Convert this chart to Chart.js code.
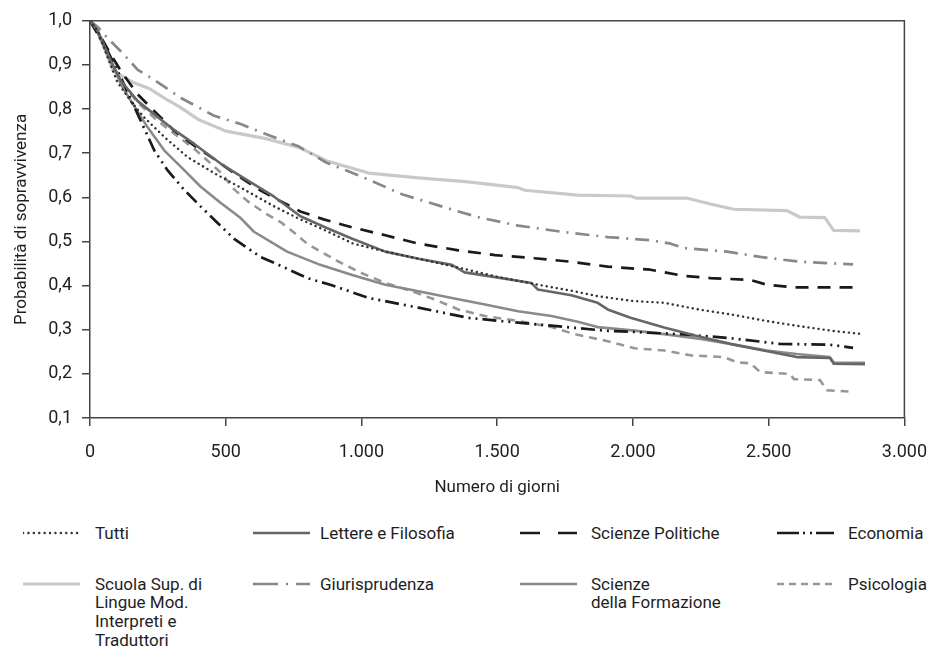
<!DOCTYPE html>
<html><head><meta charset="utf-8">
<script src="https://cdn.jsdelivr.net/npm/chart.js@4.4.1/dist/chart.umd.min.js"></script>
<style>
html,body{margin:0;padding:0;background:#fff;}
body{width:943px;height:650px;position:relative;overflow:hidden;font-family:Roboto, sans-serif;color:#1e1e1e;}
#wrap{position:absolute;left:0;top:0;width:943px;height:505px;}
.legtxt{position:absolute;font-size:17px;line-height:18.7px;color:#1e1e1e;white-space:nowrap;}
.legsvg{position:absolute;}
</style></head><body>
<div id="wrap"><canvas id="c" width="943" height="505"></canvas></div>
<div id="legend"></div>
<script>
// ---- data ----
const seriesNames = ['Tutti','Lettere e Filosofia','Scienze Politiche','Economia',
  'Scuola Sup. di\nLingue Mod.\nInterpreti e\nTraduttori','Giurisprudenza','Scienze\ndella Formazione','Psicologia'];
const xTickLabels = ['0','500','1.000','1.500','2.000','2.500','3.000'];
const yTickLabels = ['0,1','0,2','0,3','0,4','0,5','0,6','0,7','0,8','0,9','1,0'];

const tuttiX = [0,30,60,100,150,200,275,360,460,570,680,775,860,970,1090,1210,1370,1500,1650,1785,1870,2000,2115,2250,2358,2490,2603,2740,2848];
const tuttiY = [1.0,0.975,0.925,0.862,0.818,0.781,0.736,0.691,0.654,0.617,0.579,0.550,0.527,0.495,0.477,0.461,0.439,0.420,0.402,0.387,0.376,0.365,0.361,0.345,0.335,0.320,0.309,0.297,0.290];

const lettereX = [0,30,78,115,176,237,298,384,482,579,677,775,870,966,1088,1210,1333,1380,1516,1626,1650,1773,1870,1907,1991,2115,2236,2358,2481,2603,2726,2740,2855];
const lettereY = [1.0,0.975,0.908,0.863,0.818,0.788,0.758,0.721,0.676,0.639,0.602,0.557,0.531,0.506,0.477,0.461,0.447,0.430,0.417,0.406,0.391,0.378,0.361,0.346,0.327,0.305,0.286,0.268,0.253,0.238,0.236,0.223,0.222];

const politicheX = [0,29,78,115,176,249,310,384,457,543,616,702,775,861,966,1088,1210,1357,1492,1638,1772,1907,2064,2188,2285,2432,2493,2591,2823];
const politicheY = [1.0,0.975,0.922,0.885,0.833,0.788,0.751,0.717,0.687,0.650,0.620,0.591,0.568,0.550,0.532,0.514,0.495,0.480,0.469,0.462,0.454,0.443,0.436,0.422,0.417,0.413,0.402,0.396,0.396];

const economiaX = [0,17,66,115,176,237,286,347,408,482,531,628,702,800,885,1027,1210,1393,1577,1773,1895,2176,2358,2541,2726,2811];
const economiaY = [1.0,0.982,0.930,0.870,0.788,0.706,0.661,0.617,0.579,0.535,0.506,0.465,0.445,0.417,0.402,0.372,0.350,0.327,0.316,0.305,0.298,0.290,0.281,0.268,0.266,0.259];

const scuolaX = [0,30,85,157,220,274,330,403,501,648,770,831,870,1027,1210,1393,1577,1601,1797,1991,2014,2200,2285,2372,2567,2616,2707,2739,2836];
const scuolaY = [1.0,0.975,0.887,0.861,0.846,0.825,0.805,0.775,0.750,0.733,0.713,0.695,0.683,0.655,0.644,0.635,0.622,0.616,0.605,0.603,0.598,0.598,0.585,0.573,0.570,0.555,0.554,0.525,0.524];

const giurX = [0,30,66,115,176,237,335,457,555,640,770,870,1027,1149,1308,1430,1577,1748,1907,2064,2139,2188,2347,2469,2616,2811];
const giurY = [1.0,0.985,0.96,0.93,0.889,0.866,0.825,0.785,0.766,0.745,0.715,0.679,0.640,0.607,0.577,0.555,0.536,0.521,0.510,0.503,0.495,0.485,0.477,0.465,0.454,0.448];

const formazioneX = [0,30,66,115,151,213,274,335,408,482,555,604,726,848,966,1088,1210,1333,1455,1577,1700,1797,1870,2005,2115,2250,2358,2493,2603,2725,2740,2855];
const formazioneY = [1.0,0.97,0.922,0.855,0.818,0.758,0.706,0.669,0.624,0.587,0.553,0.522,0.477,0.447,0.424,0.402,0.387,0.372,0.357,0.342,0.331,0.318,0.306,0.298,0.290,0.279,0.268,0.253,0.245,0.238,0.225,0.225];

const psicoX = [0,30,66,115,176,237,298,384,484,531,579,640,702,750,800,861,917,1002,1088,1186,1272,1357,1455,1577,1700,1785,1900,2005,2115,2212,2335,2384,2432,2469,2578,2593,2689,2714,2794];
const psicoY = [1.0,0.975,0.92,0.86,0.815,0.78,0.75,0.71,0.655,0.618,0.592,0.566,0.544,0.521,0.495,0.473,0.454,0.428,0.406,0.387,0.368,0.346,0.331,0.320,0.306,0.290,0.275,0.258,0.253,0.242,0.238,0.226,0.224,0.204,0.200,0.188,0.186,0.163,0.160];

// ---- styles ----
const seriesX = [tuttiX, lettereX, politicheX, economiaX, scuolaX, giurX, formazioneX, psicoX];
const seriesY = [tuttiY, lettereY, politicheY, economiaY, scuolaY, giurY, formazioneY, psicoY];
const styles = [
  {color:'#333333', width:2.4, dash:[0.1,5], cap:'round', legDash:'0.1 5.3'},
  {color:'#666666', width:2.6, dash:[], cap:'butt', legDash:''},
  {color:'#1a1a1a', width:2.7, dash:[13,9], cap:'butt', legDash:'20 18'},
  {color:'#1a1a1a', width:2.7, dash:[14,5,2,5,2,5], cap:'butt', legDash:'22 4 2 5 2 4'},
  {color:'#c9c9c9', width:3.2, dash:[], cap:'butt', legDash:''},
  {color:'#888888', width:2.7, dash:[14,7,2,7], cap:'butt', legDash:'25 8 2 8'},
  {color:'#8a8a8a', width:2.6, dash:[], cap:'butt', legDash:''},
  {color:'#979797', width:2.6, dash:[8,6], cap:'butt', legDash:'7 5'}
];

const datasets = seriesNames.map((n,i)=>({
  label: n.replace(/\n/g,' '),
  data: seriesX[i].map((x,j)=>({x:x, y:seriesY[i][j]})),
  borderColor: styles[i].color,
  borderWidth: styles[i].width,
  borderDash: styles[i].dash,
  borderCapStyle: styles[i].cap,
  borderJoinStyle: 'round',
  pointRadius: 0,
  fill: false,
  tension: 0,
  order: i===4 ? 10 : i
}));

const TICKFONT = {family:'Roboto', size:18};
const TITLEFONT = {family:'Roboto', size:17};
const AX = '#454545';
const TXT = '#1e1e1e';

const frame = {
  id:'frame',
  afterDatasetsDraw(chart){
    const {ctx, chartArea:a} = chart;
    ctx.save();
    ctx.strokeStyle = AX; ctx.lineWidth = 1.5;
    ctx.beginPath();
    ctx.moveTo(a.left, a.top); ctx.lineTo(a.right, a.top); ctx.lineTo(a.right, a.bottom);
    ctx.stroke();
    ctx.restore();
  }
};

new Chart(document.getElementById('c'), {
  type:'line',
  data:{datasets},
  plugins:[frame],
  options:{
    responsive:false, animation:false, devicePixelRatio:1,
    layout:{padding:{left:0, right:35, top:16, bottom:0}},
    plugins:{legend:{display:false}, tooltip:{enabled:false}},
    scales:{
      x:{
        type:'linear', min:0, max:3000,
        afterFit(s){ s.height = 87; },
        border:{color:AX, width:1.5},
        grid:{drawOnChartArea:false, drawTicks:true, tickLength:8, color:AX, lineWidth:1.5},
        ticks:{stepSize:500, padding:16, color:TXT, font:TICKFONT, maxRotation:0,
          callback:(v)=> xTickLabels[Math.round(v/500)] ?? ''},
        title:{display:true, text:'Numero di giorni', color:TXT, font:TITLEFONT, padding:{top:0,bottom:7}}
      },
      y:{
        type:'linear', min:0.1, max:1.0,
        afterFit(s){ s.width = 90; },
        border:{color:AX, width:1.5},
        grid:{drawOnChartArea:false, drawTicks:true, tickLength:8, color:AX, lineWidth:1.5},
        ticks:{stepSize:0.1, padding:10, color:TXT, font:TICKFONT,
          callback:(v)=> yTickLabels[Math.round(v*10)-1] ?? ''},
        title:{display:true, text:'Probabilità di sopravvivenza', color:TXT, font:TITLEFONT, padding:{top:12,bottom:0}}
      }
    }
  }
});

// ---- legend (HTML) ----
const legCols = [[23,95],[253,320],[520,591],[777,848]];
const legRows = [533,584];
const legend = document.getElementById('legend');
seriesNames.forEach((n,i)=>{
  const col = legCols[i%4], rowC = legRows[Math.floor(i/4)];
  const st = styles[i];
  const w = 57, h = 8;
  const svg = document.createElementNS('http://www.w3.org/2000/svg','svg');
  svg.setAttribute('class','legsvg');
  svg.setAttribute('width', w); svg.setAttribute('height', h);
  svg.style.left = col[0]+'px'; svg.style.top = (rowC - h/2)+'px';
  const ln = document.createElementNS('http://www.w3.org/2000/svg','line');
  ln.setAttribute('x1',0); ln.setAttribute('x2',w); ln.setAttribute('y1',h/2); ln.setAttribute('y2',h/2);
  ln.setAttribute('stroke', st.color); ln.setAttribute('stroke-width', st.width);
  ln.setAttribute('stroke-linecap', st.cap);
  if (st.legDash) ln.setAttribute('stroke-dasharray', st.legDash);
  svg.appendChild(ln);
  legend.appendChild(svg);
  const t = document.createElement('div');
  t.className = 'legtxt';
  t.style.left = col[1]+'px'; t.style.top = (rowC - 9.35)+'px';
  t.innerHTML = n.split('\n').join('<br>');
  legend.appendChild(t);
});
</script>
</body></html>
